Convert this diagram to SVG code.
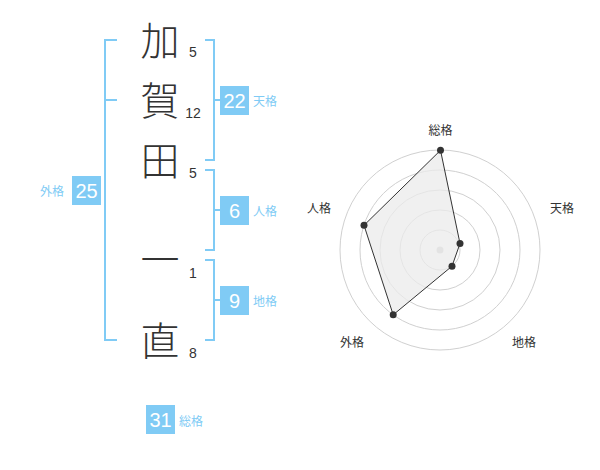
<svg xmlns="http://www.w3.org/2000/svg" width="600" height="470" viewBox="0 0 600 470">
<style>
.ch{font-family:"Noto Sans CJK JP","Noto Sans CJK SC",sans-serif;font-size:39px;font-weight:300;fill:#333;text-anchor:middle}
.num{font-family:"Liberation Sans",Arial,sans-serif;font-size:14px;fill:#333;text-anchor:middle}
.br{fill:none;stroke:#80cbf5;stroke-width:2}
.box{fill:#80cbf5}
.bn{font-family:"Liberation Sans",Arial,sans-serif;font-size:20px;fill:#fff;text-anchor:middle}
.bl{font-family:"Noto Sans CJK JP","Noto Sans CJK SC",sans-serif;font-size:12px;fill:#80cbf5}
.rl{font-family:"Noto Sans CJK JP","Noto Sans CJK SC",sans-serif;font-size:12px;fill:#333;text-anchor:middle}
.ring{fill:none;stroke:#d0d0d0;stroke-width:1}
</style>
<rect width="600" height="470" fill="#fff"/>
<g id="name">
<text class="ch" x="160" y="55">加</text>
<text class="ch" x="160" y="115">賀</text>
<text class="ch" x="160" y="175">田</text>
<text class="ch" x="160" y="274">一</text>
<text class="ch" x="160" y="355">直</text>
<text class="num" x="193" y="57">5</text>
<text class="num" x="193" y="118">12</text>
<text class="num" x="193" y="178">5</text>
<text class="num" x="193" y="278">1</text>
<text class="num" x="193" y="358">8</text>
</g>
<g id="connectors">
<path class="br" d="M117,40 H105 V340 H117 M105,100 H117"/>
<path class="br" d="M205,40 H214 V160 H205 M214,100 H220"/>
<path class="br" d="M205,170 H214 V250 H205 M214,210 H220"/>
<path class="br" d="M205,260 H214 V340 H205 M214,300 H220"/>
</g>
<g id="tenkaku">
<rect class="box" x="220" y="86" width="29" height="29"/>
<text class="bn" x="234.5" y="108">22</text>
<text class="bl" x="253" y="106">天格</text>
</g>
<g id="jinkaku">
<rect class="box" x="220" y="196" width="29" height="29"/>
<text class="bn" x="234.5" y="218">6</text>
<text class="bl" x="253" y="216">人格</text>
</g>
<g id="chikaku">
<rect class="box" x="220" y="286" width="29" height="29"/>
<text class="bn" x="234.5" y="308">9</text>
<text class="bl" x="253" y="306">地格</text>
</g>
<g id="gaikaku">
<rect class="box" x="72" y="176" width="29" height="29"/>
<text class="bn" x="86.5" y="198">25</text>
<text class="bl" x="40" y="196">外格</text>
</g>
<g id="soukaku">
<rect class="box" x="146" y="405" width="29" height="29"/>
<text class="bn" x="160.5" y="427">31</text>
<text class="bl" x="179" y="426">総格</text>
</g>
<g id="radar">
<circle class="ring" cx="440" cy="250" r="20"/>
<circle class="ring" cx="440" cy="250" r="40"/>
<circle class="ring" cx="440" cy="250" r="60"/>
<circle class="ring" cx="440" cy="250" r="80"/>
<circle class="ring" cx="440" cy="250" r="100"/>
<circle cx="440" cy="250" r="3.5" fill="#ccc"/>
<polygon points="440.5,150.3 460,243.5 452,266.2 393.2,314.8 364,225.3" fill="#ebebeb" fill-opacity="0.75" stroke="#333" stroke-width="1"/>
<g fill="#333">
<circle cx="440.5" cy="150.3" r="3.5"/>
<circle cx="460" cy="243.5" r="3.5"/>
<circle cx="452" cy="266.2" r="3.5"/>
<circle cx="393.2" cy="314.8" r="3.5"/>
<circle cx="364" cy="225.3" r="3.5"/>
</g>
<text class="rl" x="440.5" y="135">総格</text>
<text class="rl" x="562" y="213">天格</text>
<text class="rl" x="524" y="347">地格</text>
<text class="rl" x="352" y="347">外格</text>
<text class="rl" x="319" y="213">人格</text>
</g>
</svg>
